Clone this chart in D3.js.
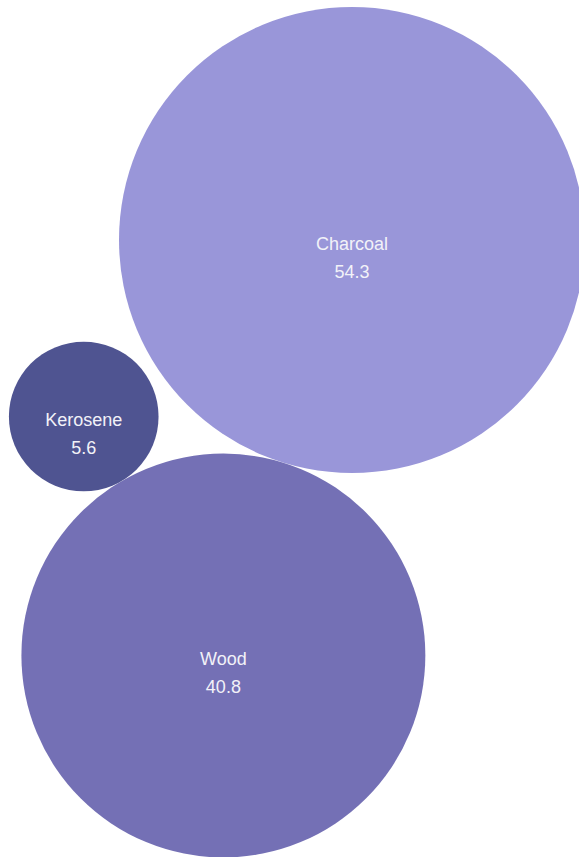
<!DOCTYPE html>
<html>
<head>
<meta charset="utf-8">
<script src="https://cdn.jsdelivr.net/npm/d3@7"></script>
<style>
  body { margin: 0; background: #ffffff; }
</style>
</head>
<body>
<div id="bubbles"></div>
<script>
// Data
const fuels = ["Charcoal", "Wood", "Kerosene"];
const shares = [54.3, 40.8, 5.6];

// Define the dimensions for the SVG
const width = 579;
const height = 857;

const svg = d3.select("#bubbles")
  .append("svg")
  .attr("width", width)
  .attr("height", height);

// Bubble area is proportional to the value
const rScale = d3.scaleSqrt()
  .domain([0, d3.max(shares)])
  .range([0, 233]);

const color = d3.scaleOrdinal()
  .domain(fuels)
  .range(["#9996d9", "#7470b5", "#4f5491"]);

// Layout: first bubble anchored, each next one touches the previous one
const anchor = { x: 352, y: 240 };
const angles = [0, 107.2, -120.3]; // direction from previous bubble, degrees
const nodes = [];
fuels.forEach((name, i) => {
  const r = rScale(shares[i]);
  if (i === 0) {
    nodes.push({ name, value: shares[i], r, x: anchor.x, y: anchor.y });
  } else {
    const prev = nodes[i - 1];
    const a = angles[i] * Math.PI / 180;
    const d = prev.r + r;
    nodes.push({ name, value: shares[i], r, x: prev.x + d * Math.cos(a), y: prev.y + d * Math.sin(a) });
  }
});

const bubble = svg.selectAll("g.bubble")
  .data(nodes)
  .enter()
  .append("g")
    .attr("class", "bubble")
    .attr("transform", d => `translate(${d.x},${d.y})`);

bubble.append("circle")
  .attr("r", d => d.r)
  .attr("fill", d => color(d.name));

// name and value, two lines
bubble.append("text")
  .attr("y", 5)
  .attr("text-anchor", "middle")
  .attr("dominant-baseline", "middle")
  .attr("fill", "#f2f2f8")
  .style("font-family", "Liberation Sans, Arial, sans-serif")
  .style("font-size", "18px")
  .text(d => d.name);

bubble.append("text")
  .attr("y", 33)
  .attr("text-anchor", "middle")
  .attr("dominant-baseline", "middle")
  .attr("fill", "#f2f2f8")
  .style("font-family", "Liberation Sans, Arial, sans-serif")
  .style("font-size", "18px")
  .text(d => d.value.toFixed(1));
</script>
</body>
</html>
